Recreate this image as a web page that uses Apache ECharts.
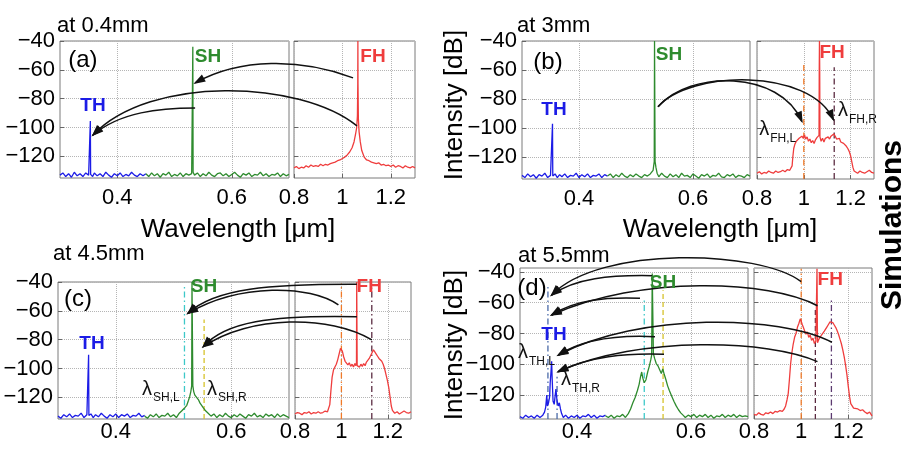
<!DOCTYPE html>
<html><head><meta charset="utf-8">
<script src="https://cdn.jsdelivr.net/npm/echarts@6/dist/echarts.min.js"></script>
<style>html,body{margin:0;padding:0;background:#fff}#c{width:909px;height:449px}</style>
</head><body><div id="c"></div>
<script>
// ---------------- DATA ----------------
const xTicksL = [0.4, 0.6];
const xTicksR = [0.8, 1, 1.2];
const yTicks = [-120, -100, -80, -60, -40];
const panelTitles = ['at 0.4mm', 'at 3mm', 'at 4.5mm', 'at 5.5mm'];

// Panel (a)
const blueA = [[0.300,-133],[0.305,-131.5],[0.310,-134],[0.315,-132],[0.320,-134.5],[0.325,-131],[0.330,-133.5],[0.335,-132],[0.340,-134],[0.345,-131.5],[0.350,-133],[0.3525,-132],[0.353,-95.5],[0.3535,-132.5],[0.357,-134],[0.360,-131.5],[0.365,-133.5],[0.370,-132],[0.375,-134],[0.380,-131],[0.385,-133],[0.390,-134.5],[0.395,-132],[0.400,-133.5],[0.405,-131.5],[0.410,-134],[0.415,-132.5],[0.420,-133.5],[0.425,-131],[0.430,-133],[0.435,-134],[0.440,-132],[0.445,-133.5],[0.450,-132]];
const greenA = [[0.450,-132],[0.455,-134],[0.460,-131.5],[0.465,-133.5],[0.470,-132],[0.475,-134.5],[0.480,-132],[0.485,-133],[0.490,-131],[0.495,-134],[0.500,-132.5],[0.505,-133.5],[0.510,-131.5],[0.515,-134],[0.520,-132],[0.525,-133],[0.530,-132],[0.5315,-131],[0.532,-44],[0.5325,-131],[0.535,-133],[0.540,-131.5],[0.545,-134],[0.550,-132],[0.555,-133.5],[0.560,-131],[0.565,-133],[0.570,-134],[0.575,-132],[0.580,-131.5],[0.585,-133.5],[0.590,-132],[0.595,-134],[0.600,-132.5],[0.605,-131],[0.610,-133],[0.615,-134.5],[0.620,-132],[0.625,-133],[0.630,-131.5],[0.635,-134],[0.640,-132.5],[0.645,-133],[0.650,-131],[0.655,-133.5],[0.660,-132],[0.665,-134],[0.670,-132.5],[0.675,-133],[0.680,-131.5],[0.685,-134],[0.690,-132],[0.695,-133.5],[0.700,-132.5]];
const redA = [[0.800,-128],[0.810,-127],[0.820,-128.5],[0.830,-127.5],[0.840,-128],[0.850,-126.5],[0.860,-127.5],[0.870,-126],[0.880,-127],[0.890,-126.5],[0.900,-127],[0.910,-125.5],[0.920,-126.5],[0.930,-125.5],[0.940,-126],[0.950,-125],[0.960,-124.5],[0.970,-124],[0.980,-123],[0.990,-122.5],[1.000,-121.5],[1.010,-120.5],[1.020,-119],[1.030,-117],[1.040,-114],[1.048,-110],[1.054,-105],[1.059,-100],[1.062,-92],[1.0635,-70],[1.064,-40],[1.0645,-70],[1.066,-94],[1.069,-103],[1.074,-110],[1.080,-116],[1.090,-120.5],[1.100,-122.5],[1.110,-123],[1.120,-124],[1.130,-124.5],[1.140,-125],[1.150,-124.5],[1.160,-126],[1.170,-125.5],[1.180,-126.5],[1.190,-126],[1.200,-127],[1.210,-126],[1.220,-127.5],[1.230,-126.5],[1.240,-127],[1.250,-128],[1.260,-126.5],[1.270,-127.5],[1.280,-128],[1.290,-127],[1.300,-128]];

// Panel (b)
const blueB = [[0.300,-132.5],[0.305,-134],[0.310,-131.5],[0.315,-133.5],[0.320,-132],[0.325,-134.5],[0.330,-132],[0.335,-133],[0.340,-131],[0.345,-134],[0.350,-132.5],[0.353,-133],[0.3535,-97],[0.354,-133],[0.358,-131.5],[0.362,-134],[0.366,-132],[0.370,-133.5],[0.375,-131.5],[0.380,-134],[0.385,-132.5],[0.390,-133],[0.395,-131],[0.400,-134],[0.405,-132],[0.410,-133.5],[0.415,-131.5],[0.420,-134],[0.425,-132.5],[0.430,-133],[0.435,-131.5],[0.440,-134],[0.445,-132],[0.450,-133]];
const greenB = [[0.450,-133],[0.455,-131.5],[0.460,-134],[0.465,-132],[0.470,-133.5],[0.475,-131],[0.480,-133],[0.485,-134],[0.490,-132],[0.495,-133.5],[0.500,-131.5],[0.505,-133],[0.510,-134],[0.515,-132],[0.520,-133],[0.525,-131.5],[0.528,-132],[0.530,-129],[0.531,-126],[0.532,-123],[0.5325,-40],[0.533,-40],[0.5335,-123],[0.535,-127],[0.537,-131],[0.540,-133.5],[0.545,-131],[0.550,-133],[0.555,-134],[0.560,-131.5],[0.565,-133.5],[0.570,-132],[0.575,-134],[0.580,-131],[0.585,-133],[0.590,-132.5],[0.595,-134],[0.600,-131.5],[0.605,-133],[0.610,-134.5],[0.615,-132],[0.620,-133],[0.625,-131.5],[0.630,-134],[0.635,-132.5],[0.640,-133],[0.645,-131],[0.650,-133.5],[0.655,-134],[0.660,-132],[0.665,-133],[0.670,-131.5],[0.675,-134],[0.680,-132.5],[0.685,-133],[0.690,-134],[0.695,-132],[0.700,-133]];
const redB = [[0.800,-131],[0.810,-130],[0.820,-131.5],[0.830,-130.5],[0.840,-131],[0.850,-129.5],[0.860,-130.5],[0.870,-131],[0.880,-129.5],[0.890,-130.5],[0.900,-130],[0.910,-129],[0.920,-130],[0.930,-128.5],[0.940,-129],[0.945,-128],[0.950,-126],[0.953,-120],[0.957,-114],[0.962,-111],[0.968,-109],[0.974,-110],[0.980,-107],[0.986,-108],[0.992,-105.5],[0.998,-107],[1.003,-104.5],[1.008,-107.5],[1.014,-106],[1.020,-109],[1.026,-107.5],[1.032,-110],[1.038,-108.5],[1.044,-110.5],[1.050,-108],[1.056,-106.5],[1.062,-107],[1.065,-105],[1.066,-60],[1.067,-40],[1.068,-60],[1.069,-106],[1.074,-109],[1.080,-107],[1.086,-109.5],[1.092,-107],[1.098,-108],[1.104,-106],[1.110,-107.5],[1.116,-105.5],[1.122,-106],[1.128,-104],[1.134,-105.5],[1.140,-107.5],[1.146,-108],[1.152,-107],[1.158,-109.5],[1.164,-109],[1.170,-110.5],[1.176,-111],[1.182,-112.5],[1.188,-114],[1.194,-116],[1.200,-119],[1.205,-123],[1.210,-127],[1.215,-129.5],[1.220,-130],[1.230,-131],[1.240,-129.5],[1.250,-130.5],[1.260,-131],[1.270,-130],[1.280,-129],[1.290,-130.5],[1.300,-131]];

// Panel (c)
const blueC = [[0.300,-133],[0.305,-134.5],[0.310,-132],[0.315,-133.5],[0.320,-131.5],[0.325,-134],[0.330,-132.5],[0.335,-133],[0.340,-131],[0.345,-134],[0.350,-132],[0.3525,-133],[0.353,-90.5],[0.3535,-132.5],[0.357,-131.5],[0.361,-134],[0.365,-132],[0.370,-133.5],[0.375,-131],[0.380,-133],[0.385,-134.5],[0.390,-132],[0.395,-133.5],[0.400,-131.5],[0.405,-134],[0.410,-132],[0.415,-133],[0.420,-131.5],[0.425,-134],[0.430,-132.5],[0.435,-133],[0.440,-131],[0.445,-133.5],[0.450,-132.5]];
const greenC = [[0.450,-133],[0.455,-134.5],[0.460,-132],[0.465,-133.5],[0.470,-131.5],[0.475,-134],[0.480,-132.5],[0.485,-133],[0.490,-131],[0.495,-133.5],[0.500,-132],[0.505,-134],[0.510,-131],[0.514,-129.5],[0.517,-130.5],[0.520,-127],[0.523,-125.5],[0.526,-122],[0.528,-119.5],[0.530,-116],[0.5315,-112],[0.532,-40],[0.533,-40],[0.5335,-112],[0.535,-116],[0.537,-118.5],[0.540,-118],[0.543,-121.5],[0.546,-124],[0.549,-125],[0.552,-127.5],[0.556,-129.5],[0.560,-131],[0.565,-133],[0.570,-131.5],[0.575,-134],[0.580,-132],[0.585,-133.5],[0.590,-131],[0.595,-133],[0.600,-134],[0.605,-132],[0.610,-133.5],[0.615,-131.5],[0.620,-133],[0.625,-134.5],[0.630,-132],[0.635,-133],[0.640,-131],[0.645,-133.5],[0.650,-132.5],[0.655,-134],[0.660,-131.5],[0.665,-133],[0.670,-132],[0.675,-134],[0.680,-131.5],[0.685,-133.5],[0.690,-132],[0.695,-133],[0.700,-134]];
const redC = [[0.800,-131.5],[0.810,-130.5],[0.820,-131],[0.830,-132],[0.840,-130.5],[0.850,-131],[0.860,-130],[0.870,-131.5],[0.880,-130.5],[0.890,-131],[0.900,-130],[0.910,-131],[0.920,-130.5],[0.930,-129.5],[0.940,-130],[0.945,-129],[0.950,-125],[0.955,-115],[0.960,-106],[0.966,-101],[0.972,-99],[0.978,-97],[0.984,-94],[0.990,-90],[0.996,-86],[1.000,-85],[1.004,-88],[1.010,-92],[1.016,-95],[1.022,-94],[1.028,-97.5],[1.034,-96],[1.040,-98.5],[1.046,-97],[1.052,-99],[1.058,-96.5],[1.062,-98],[1.065,-96],[1.066,-40],[1.067,-40],[1.068,-98],[1.072,-97],[1.078,-99],[1.084,-97],[1.090,-98.5],[1.096,-96.5],[1.102,-98],[1.108,-95.5],[1.114,-96],[1.120,-93],[1.126,-92.5],[1.132,-89],[1.138,-87],[1.144,-88.5],[1.150,-90],[1.156,-91.5],[1.162,-93],[1.168,-93.5],[1.174,-95],[1.180,-97],[1.186,-100],[1.192,-104],[1.198,-108],[1.204,-113],[1.210,-120],[1.215,-126],[1.220,-129],[1.230,-131],[1.240,-130],[1.250,-131.5],[1.260,-130.5],[1.270,-129.5],[1.280,-130.5],[1.290,-131],[1.300,-130]];

// Panel (d)
const blueD = [[0.300,-134],[0.305,-135],[0.310,-133],[0.315,-134.5],[0.320,-133.5],[0.325,-135],[0.330,-133],[0.335,-134.5],[0.340,-133],[0.343,-131],[0.345,-128],[0.347,-120],[0.348,-127],[0.350,-125],[0.352,-121],[0.353,-112],[0.3545,-104],[0.3555,-98],[0.3565,-110],[0.358,-124],[0.360,-126],[0.3615,-121],[0.363,-116],[0.365,-124],[0.367,-127],[0.369,-125],[0.371,-129],[0.373,-132],[0.376,-134.5],[0.380,-133],[0.385,-135],[0.390,-133.5],[0.395,-134.5],[0.400,-133],[0.405,-135],[0.410,-133.5],[0.415,-134],[0.420,-132.5],[0.425,-134.5],[0.430,-133],[0.435,-135],[0.440,-133.5],[0.445,-134],[0.450,-133]];
const greenD = [[0.450,-133.5],[0.455,-134.5],[0.460,-133],[0.465,-135],[0.470,-133.5],[0.475,-134],[0.480,-132.5],[0.485,-134.5],[0.490,-132],[0.494,-129],[0.498,-125],[0.502,-121.5],[0.506,-117],[0.509,-113],[0.5115,-108],[0.5135,-105],[0.5155,-109],[0.518,-112],[0.521,-110],[0.524,-105],[0.527,-101],[0.5295,-97],[0.531,-94],[0.532,-41],[0.533,-41],[0.534,-93],[0.536,-96],[0.539,-99.5],[0.542,-101],[0.545,-103.5],[0.548,-106],[0.5505,-103],[0.553,-106.5],[0.556,-110],[0.559,-114],[0.562,-117],[0.566,-120.5],[0.570,-124],[0.574,-127],[0.578,-129.5],[0.582,-131.5],[0.586,-133],[0.590,-134.5],[0.595,-133],[0.600,-134],[0.605,-132.5],[0.610,-134.5],[0.615,-133],[0.620,-134],[0.625,-132.5],[0.630,-134.5],[0.635,-133],[0.640,-135],[0.645,-133.5],[0.650,-134],[0.655,-132.5],[0.660,-134.5],[0.665,-133],[0.670,-134],[0.675,-132.5],[0.680,-134.5],[0.685,-133],[0.690,-134],[0.695,-133.5],[0.700,-134]];
const redD = [[0.800,-132.5],[0.810,-133],[0.820,-131.5],[0.830,-132.5],[0.840,-133],[0.850,-131.5],[0.860,-132],[0.870,-131],[0.880,-132],[0.890,-130.5],[0.900,-131],[0.910,-130],[0.920,-130.5],[0.928,-129],[0.934,-127],[0.940,-123],[0.945,-119],[0.950,-110],[0.955,-100],[0.960,-93],[0.966,-87],[0.972,-82.5],[0.978,-80],[0.984,-76],[0.990,-73.5],[0.996,-70.5],[1.000,-72],[1.004,-74],[1.009,-76],[1.015,-78.5],[1.020,-80.5],[1.026,-79],[1.032,-82.5],[1.038,-81],[1.044,-84.5],[1.050,-83],[1.056,-86.5],[1.062,-85],[1.066,-84],[1.067,-38],[1.068,-38],[1.069,-86],[1.074,-84],[1.080,-83.5],[1.086,-81],[1.092,-81.5],[1.098,-78.5],[1.104,-78],[1.110,-75.5],[1.116,-74],[1.122,-72.5],[1.128,-71.5],[1.134,-73],[1.140,-74.5],[1.146,-76],[1.152,-78],[1.158,-80.5],[1.164,-83.5],[1.170,-86.5],[1.176,-90.5],[1.182,-95],[1.188,-100.5],[1.194,-107],[1.200,-115],[1.205,-121],[1.210,-125.5],[1.216,-127],[1.222,-128.5],[1.230,-127.5],[1.240,-129],[1.250,-130],[1.260,-129.5],[1.270,-131],[1.280,-132],[1.290,-131],[1.300,-133.5]];

// vertical marker lines: [gridIndex, x, topValue, colourKey, dashKey]
const markerLines = [
  [3, 1.000, -55, 'orange', 'dashdot'], [3, 1.130, -58, 'dark', 'dashdot'],
  [4, 0.519, -43, 'cyan', 'dashdot'], [4, 0.553, -66, 'yellow', 'dashed'],
  [5, 1.000, -41, 'orange', 'dashdot'], [5, 1.131, -44, 'dark', 'dashdot'],
  [6, 0.349, -48, 'slate', 'dashdot'], [6, 0.365, -108, 'slate', 'dashdot'],
  [6, 0.518, -57, 'cyan', 'dashdot'], [6, 0.551, -52, 'yellow', 'dashed'],
  [7, 1.000, -38, 'orange', 'dashdot'], [7, 1.060, -63, 'dark', 'dashed'], [7, 1.128, -57, 'purple', 'dashdot']
];

// curved arrows: [start, control1, control2, end], each [gridIndex, wavelength, dB]
const arrowsA = [
  [[1,1.044,-65.6],[0,0.7196,-51.8],[0,0.6147,-51.8],[0,0.536,-69.1]],
  [[1,1.0603,-98.9],[0,0.7196,-67.0],[0,0.4573,-63.6],[0,0.3577,-105.2]],
  [[0,0.536,-86.5],[0,0.4748,-86.5],[0,0.4049,-89.2],[0,0.3577,-105.2]]
];
const arrowsB = [
  [[2,0.5386,-85.3],[2,0.5947,-59.9],[2,0.7526,-59.9],[3,0.9918,-95.4]],
  [[2,0.5386,-85.3],[2,0.5947,-59.9],[2,0.8053,-58.5],[3,1.1265,-94.2]]
];
const arrowsC = [
  [[5,1.0667,-41.6],[4,0.6671,-41.4],[4,0.5719,-44.2],[4,0.5251,-61.7]],
  [[5,0.9871,-55.9],[4,0.7364,-42.1],[4,0.6152,-40.7],[4,0.5251,-61.7]],
  [[5,1.0667,-64.1],[4,0.6671,-62.9],[4,0.5892,-67.7],[4,0.5516,-84.9]],
  [[5,1.1315,-80.2],[4,0.771,-62.9],[4,0.6325,-62.9],[4,0.5516,-84.9]]
];
const arrowsD = [
  [[7,1.0,-46.4],[6,0.7211,-25.8],[6,0.4404,-22.6],[6,0.3556,-55.0]],
  [[6,0.532,-42.5],[6,0.4579,-42.0],[6,0.3965,-44.0],[6,0.3556,-55.0]],
  [[7,1.0689,-62.0],[6,0.7386,-45.3],[6,0.5105,-42.0],[6,0.3556,-68.0]],
  [[6,0.5105,-57.2],[6,0.4491,-56.3],[6,0.3965,-58.3],[6,0.3556,-68.0]],
  [[7,1.1301,-85.7],[6,0.7561,-68.0],[6,0.5105,-66.1],[6,0.3672,-94.0]],
  [[6,0.5368,-82.1],[6,0.4754,-81.0],[6,0.414,-82.9],[6,0.3672,-94.0]],
  [[7,1.0689,-98.3],[6,0.7386,-84.2],[6,0.5105,-81.0],[6,0.3672,-104.8]],
  [[6,0.5526,-93.5],[6,0.4842,-92.7],[6,0.4228,-94.6],[6,0.3672,-104.8]]
];

// in-plot labels: [gridIndex, wavelength, dB, text, kind]
const plotLabels = [
  [0,0.340,-53.2,'(a)','tag'],[0,0.3577,-85.1,'TH','th'],[0,0.5585,-51.1,'SH','sh'],[1,1.1264,-51.1,'FH','fh'],
  [2,0.3456,-54.4,'(b)','tag'],[2,0.3561,-87.3,'TH','th'],[2,0.5579,-49.6,'SH','sh'],[3,1.121,-48.2,'FH','fh'],
  [4,0.3346,-51.8,'(c)','tag'],[4,0.3589,-83.0,'TH','th'],[4,0.5528,-43.5,'SH','sh'],[5,1.1198,-43.0,'FH','fh'],
  [6,0.3211,-51.0,'(d)','tag'],[6,0.3596,-80.9,'TH','th'],[6,0.5509,-47.1,'SH','sh'],[7,1.1229,-45.2,'FH','fh']
];
// lambda labels: [gridIndex, wavelength, dB, subscript]
const lambdaLabels = [
  [3,0.8908,-103.1,'FH,L'],[3,1.2275,-90.1,'FH,R'],
  [4,0.4784,-116.3,'SH,L'],[4,0.5909,-116.3,'SH,R'],
  [6,0.3298,-94.5,'TH,L'],[6,0.4053,-112.0,'TH,R']
];

// ---------------- LAYOUT / STYLE ----------------
const FONT = '"Liberation Sans", Arial, Helvetica, sans-serif';
const C = {blue:'#1c1ce6', green:'#2e8b2e', red:'#ef3d3d', orange:'#f07a28', dark:'#5a2a40', purple:'#5c3a70', cyan:'#3cc8c8', yellow:'#d6c22a', slate:'#4a6aa8'};
const DASH = {dashdot:[6,3,1.5,3], dashed:[5,3]};
const grids = [
  {left:60, top:41, width:229, height:137},
  {left:294, top:41, width:121, height:137},
  {left:522, top:41, width:228, height:138},
  {left:757, top:41, width:117, height:138},
  {left:58, top:282, width:231, height:137},
  {left:295, top:282, width:116, height:137},
  {left:520, top:268, width:228, height:151},
  {left:754, top:268, width:118, height:151}
];
const yRange = i => (i >= 6 ? [-135.5, -37.5] : [-135, -40]);

const chart = echarts.init(document.getElementById('c'), null, {renderer:'canvas'});
const xAxes = [], yAxes = [], series = [];
grids.forEach((g, i) => {
  const isLeft = i % 2 === 0;
  const ticks = isLeft ? xTicksL : xTicksR;
  const bottomRow = i >= 4;
  xAxes.push({
    type:'value', gridIndex:i, min: isLeft ? 0.3 : 0.8, max: isLeft ? 0.7 : 1.3,
    axisLine:{show:false},
    axisTick:{show:true, inside:true, length:4, customValues:ticks, lineStyle:{color:'#666'}},
    axisLabel:{customValues:ticks, fontSize:22, fontFamily:FONT, color:'#000', margin: bottomRow ? 2 : 9},
    splitLine:{show:true, lineStyle:{type:'dotted', color:'#b5b5b5', width:1}}
  });
  const yr = yRange(i);
  yAxes.push({
    type:'value', gridIndex:i, min:yr[0], max:yr[1],
    axisLine:{show:false},
    axisTick:{show:true, inside:true, length:4, customValues:yTicks, lineStyle:{color:'#666'}},
    axisLabel:{show:isLeft, customValues:yTicks, fontSize:22, fontFamily:FONT, color:'#000', margin:5,
      formatter: v => (v < 0 ? '\u2212' : '') + Math.abs(v)},
    splitLine:{show:true, lineStyle:{type:'dotted', color:'#b5b5b5', width:1}}
  });
});
function spec(data, gi, color){
  return {type:'line', xAxisIndex:gi, yAxisIndex:gi, data, symbol:'none', showSymbol:false,
    lineStyle:{color, width:1.3}, z:3, silent:true};
}
[[blueA,greenA,redA],[blueB,greenB,redB],[blueC,greenC,redC],[blueD,greenD,redD]].forEach((p, k) => {
  series.push(spec(p[0], 2*k, C.blue), spec(p[1], 2*k, C.green), spec(p[2], 2*k+1, C.red));
});
markerLines.forEach(m => {
  const gi = m[0];
  series.push({type:'line', xAxisIndex:gi, yAxisIndex:gi, data:[[m[1], yRange(gi)[0]],[m[1], m[2]]],
    symbol:'none', lineStyle:{color:C[m[3]], width:1.3, type:DASH[m[4]]}, z:2, silent:true});
});

chart.setOption({
  animation:false, backgroundColor:'#fff',
  grid: grids.map(g => Object.assign({show:true, borderColor:'#7a7a7a', borderWidth:1, backgroundColor:'#fff'}, g)),
  xAxis:xAxes, yAxis:yAxes, series
});

// ---------------- ANNOTATIONS ----------------
const P = p => chart.convertToPixel({gridIndex:p[0]}, [p[1], p[2]]);
const els = [];
[].concat(arrowsA, arrowsB, arrowsC, arrowsD).forEach(a => {
  const s = P(a[0]), c1 = P(a[1]), c2 = P(a[2]), e = P(a[3]);
  els.push({type:'bezierCurve', z:100, silent:true,
    shape:{x1:s[0], y1:s[1], cpx1:c1[0], cpy1:c1[1], cpx2:c2[0], cpy2:c2[1], x2:e[0], y2:e[1]},
    style:{stroke:'#111', lineWidth:1.5, fill:null}});
  let dx = e[0]-c2[0], dy = e[1]-c2[1]; const L = Math.hypot(dx, dy) || 1; dx/=L; dy/=L;
  const len = 10, w = 4;
  els.push({type:'polygon', z:101, silent:true,
    shape:{points:[[e[0]+dx*2, e[1]+dy*2],[e[0]-dx*len - dy*w, e[1]-dy*len + dx*w],[e[0]-dx*len + dy*w, e[1]-dy*len - dx*w]]},
    style:{fill:'#111'}});
});
const kindStyle = {
  tag:{font:'24px '+FONT, fill:'#000'},
  th:{font:'bold 19px '+FONT, fill:C.blue},
  sh:{font:'bold 19px '+FONT, fill:C.green},
  fh:{font:'bold 19px '+FONT, fill:C.red}
};
plotLabels.forEach(l => {
  const p = P(l);
  els.push({type:'text', z:110, x:p[0], y:p[1], silent:true,
    style:Object.assign({text:l[3], align:'center', verticalAlign:'middle', textAlign:'center', textVerticalAlign:'middle'}, kindStyle[l[4]])});
});
lambdaLabels.forEach(l => {
  const p = P(l);
  els.push({type:'text', z:110, x:p[0]-19, y:p[1]-3, silent:true,
    style:{text:'\u03bb', font:'20px '+FONT, fill:'#111', align:'left', verticalAlign:'middle'}});
  els.push({type:'text', z:110, x:p[0]-8, y:p[1]+6, silent:true,
    style:{text:l[3], font:'12px '+FONT, fill:'#111', align:'left', verticalAlign:'middle'}});
});
// titles & axis names
const titlePos = [[57,26],[517,26],[53,254],[518,256]];
panelTitles.forEach((t, k) => {
  els.push({type:'text', x:titlePos[k][0], y:titlePos[k][1], silent:true,
    style:{text:t, font:'22px '+FONT, fill:'#000', align:'left', verticalAlign:'middle'}});
});
[[238,230],[720,230]].forEach(p => els.push({type:'text', x:p[0], y:p[1], silent:true,
  style:{text:'Wavelength [\u03bcm]', font:'26px '+FONT, fill:'#000', align:'center', verticalAlign:'middle'}}));
[[455,105],[455,345]].forEach(p => els.push({type:'text', x:p[0], y:p[1], rotation:Math.PI/2, silent:true,
  style:{text:'Intensity [dB]', font:'26px '+FONT, fill:'#000', align:'center', verticalAlign:'middle'}}));
els.push({type:'text', x:893, y:225, rotation:Math.PI/2, silent:true,
  style:{text:'Simulations', font:'bold 30px '+FONT, fill:'#000', align:'center', verticalAlign:'middle'}});

chart.setOption({graphic:{elements:els}});
</script></body></html>
